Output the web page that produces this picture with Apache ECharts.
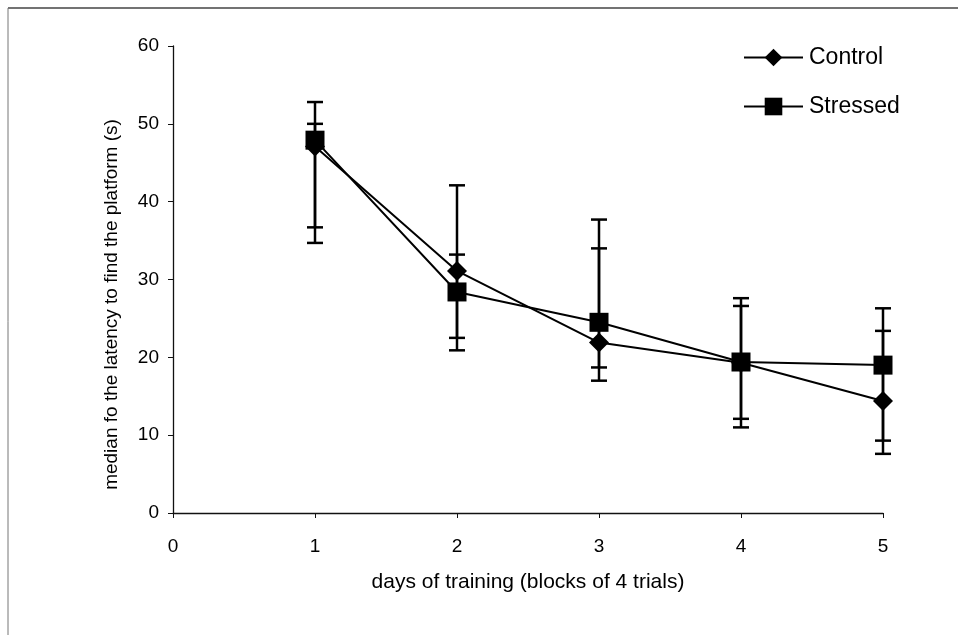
<!DOCTYPE html>
<html>
<head>
<meta charset="utf-8">
<script src="https://cdn.jsdelivr.net/npm/echarts@6/dist/echarts.min.js"></script>
<style>
html,body{margin:0;padding:0;background:#fff;}
#chart{width:958px;height:635px;}
</style>
</head>
<body>
<div id="chart"></div>
<script>
// ---- data ----
const days = [1, 2, 3, 4, 5];
const controlMedian = [47.1, 31.1, 21.9, 19.3, 14.4];
const controlUpper  = [52.8, 42.1, 37.7, 26.6, 23.4];
const controlLower  = [34.7, 22.5, 17.0, 11.0, 7.6];
const stressedMedian = [47.9, 28.4, 24.5, 19.4, 19.0];
const stressedUpper  = [50.0, 33.2, 34.0, 27.6, 26.3];
const stressedLower  = [36.7, 20.9, 18.7, 12.1, 9.3];
const xTicks = [0, 1, 2, 3, 4, 5];
const yTicks = [0, 10, 20, 30, 40, 50, 60];
const seriesNames = ['Control', 'Stressed'];
const xTitle = 'days of training (blocks of 4 trials)';
const yTitle = 'median fo the latency to find the platform (s)';

const FONT = 'Arial, "Liberation Sans", sans-serif';
const INK = '#000';

function errData(lo, hi) {
  return days.map((d, i) => [d, lo[i], hi[i]]);
}
function errRender(params, api) {
  const x = api.value(0);
  const lo = api.coord([x, api.value(1)]);
  const hi = api.coord([x, api.value(2)]);
  const hw = 8;
  const st = { stroke: INK, lineWidth: 2.5 };
  return {
    type: 'group',
    children: [
      { type: 'line', shape: { x1: lo[0], y1: lo[1], x2: hi[0], y2: hi[1] }, style: st },
      { type: 'line', shape: { x1: lo[0] - hw, y1: lo[1], x2: lo[0] + hw, y2: lo[1] }, style: st },
      { type: 'line', shape: { x1: hi[0] - hw, y1: hi[1], x2: hi[0] + hw, y2: hi[1] }, style: st }
    ]
  };
}

const chart = echarts.init(document.getElementById('chart'), null, { renderer: 'canvas' });
chart.setOption({
  backgroundColor: '#fff',
  animation: false,
  textStyle: { fontFamily: FONT, color: INK },
  graphic: [
    { type: 'line', shape: { x1: 8, y1: 8, x2: 958, y2: 8 }, style: { stroke: '#444', lineWidth: 1.5 } },
    { type: 'line', shape: { x1: 8, y1: 8, x2: 8, y2: 635 }, style: { stroke: '#777', lineWidth: 1 } }
  ],
  grid: { left: 173, right: 75, top: 46, bottom: 122 },
  legend: {
    orient: 'vertical',
    left: 738,
    top: 41,
    itemWidth: 59,
    itemHeight: 22,
    itemGap: 26,
    data: seriesNames,
    textStyle: { fontFamily: FONT, fontSize: 23, color: INK, padding: [0, 0, 0, 1] }
  },
  xAxis: {
    type: 'value',
    min: xTicks[0],
    max: xTicks[xTicks.length - 1],
    interval: 1,
    name: xTitle,
    nameLocation: 'middle',
    nameGap: 59,
    nameTextStyle: { fontFamily: FONT, fontSize: 21, color: INK },
    axisLine: { lineStyle: { color: '#111', width: 1.3 } },
    axisTick: { show: true, length: 5, inside: false, lineStyle: { color: '#111' } },
    axisLabel: { fontFamily: FONT, fontSize: 19, color: INK, margin: 24 },
    splitLine: { show: false }
  },
  yAxis: {
    type: 'value',
    min: yTicks[0],
    max: yTicks[yTicks.length - 1],
    interval: 10,
    name: yTitle,
    nameLocation: 'middle',
    nameGap: 52,
    nameRotate: 90,
    nameTextStyle: { fontFamily: FONT, fontSize: 19, color: INK, padding: [0, 50, 0, 0] },
    axisLine: { show: true, lineStyle: { color: '#111', width: 1.3 } },
    axisTick: { show: true, length: 5, lineStyle: { color: '#111' } },
    axisLabel: { fontFamily: FONT, fontSize: 19, color: INK, margin: 14 },
    splitLine: { show: false }
  },
  series: [
    {
      name: seriesNames[0] + ' err',
      type: 'custom',
      renderItem: errRender,
      data: errData(controlLower, controlUpper),
      encode: { x: 0, y: [1, 2] },
      z: 1,
      silent: true
    },
    {
      name: seriesNames[1] + ' err',
      type: 'custom',
      renderItem: errRender,
      data: errData(stressedLower, stressedUpper),
      encode: { x: 0, y: [1, 2] },
      z: 1,
      silent: true
    },
    {
      name: seriesNames[0],
      type: 'line',
      data: days.map((d, i) => [d, controlMedian[i]]),
      symbol: 'diamond',
      symbolSize: 20,
      showAllSymbol: true,
      lineStyle: { color: INK, width: 2 },
      itemStyle: { color: INK, borderWidth: 0 },
      z: 3
    },
    {
      name: seriesNames[1],
      type: 'line',
      data: days.map((d, i) => [d, stressedMedian[i]]),
      symbol: 'rect',
      symbolSize: 19,
      showAllSymbol: true,
      lineStyle: { color: INK, width: 2 },
      itemStyle: { color: INK, borderWidth: 0 },
      z: 4
    }
  ]
});
</script>
</body>
</html>
